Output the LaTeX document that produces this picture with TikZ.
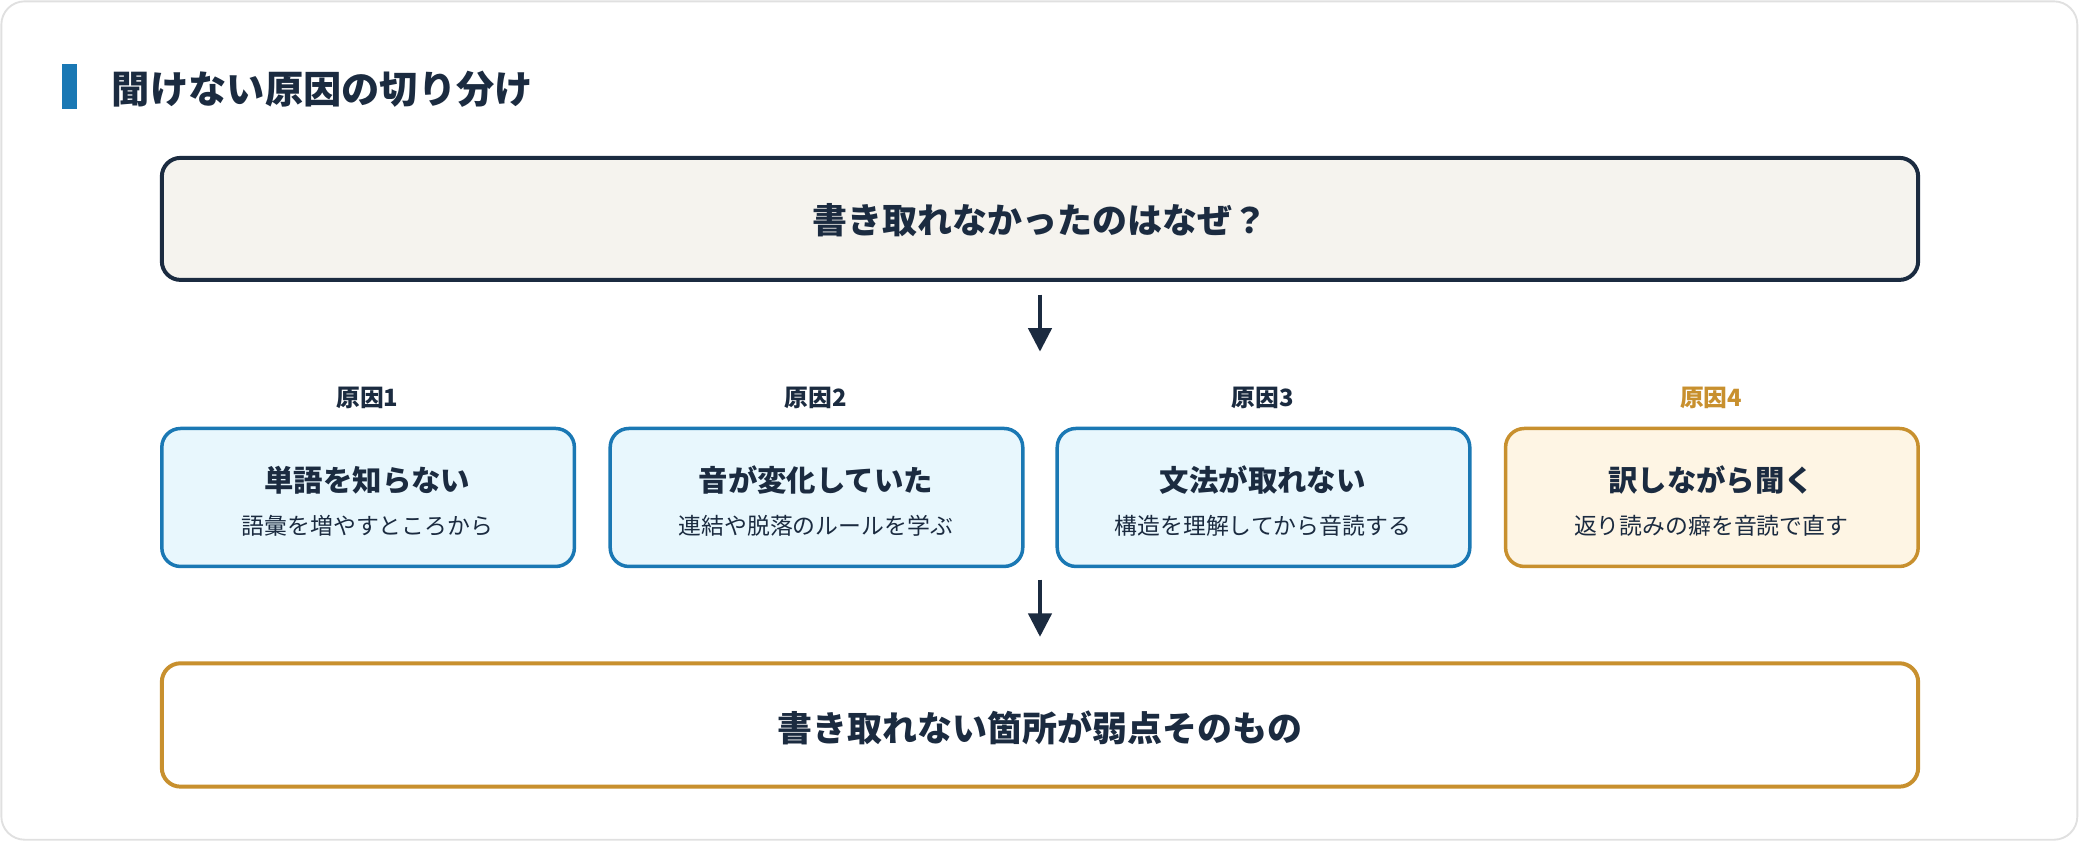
\documentclass[tikz,border=0pt]{standalone}
\usepackage{fontspec}
\setmainfont{Noto Sans CJK JP}
\usetikzlibrary{arrows.meta}
\definecolor{navy}{HTML}{1B2B40}
\definecolor{blueb}{HTML}{1A78B4}
\definecolor{bluef}{HTML}{E8F7FD}
\definecolor{gold}{HTML}{C8902E}
\definecolor{goldf}{HTML}{FEF5E4}
\definecolor{beige}{HTML}{F5F3EE}
\begin{document}
\begin{tikzpicture}[x=0.01cm,y=-0.01cm,
 box/.style={draw=blueb,fill=bluef,line width=0.75pt,rounded corners=4pt},
 big/.style={draw=navy,line width=0.85pt,rounded corners=4pt},
 arr/.style={draw=navy,line width=0.7pt,-{Triangle[length=5pt,width=5pt]}},
 ttl/.style={font=\fontsize{6.3}{7}\selectfont\bfseries,text=navy},
 sub/.style={font=\fontsize{4.9}{6}\selectfont,text=navy},
 lab/.style={font=\fontsize{5.1}{6}\selectfont\bfseries,text=navy},
 bigt/.style={font=\fontsize{7.5}{9}\selectfont\bfseries,text=navy}]
\useasboundingbox (0,0) rectangle (1568,635);
\draw[draw=black!12,fill=white,line width=0.4pt,rounded corners=5pt] (1,1) rectangle (1566,633);
\fill[blueb] (47,48) rectangle (58,82);
\node[anchor=west,font=\fontsize{8.2}{10}\selectfont\bfseries,text=navy] (title) at (72,67) {聞けない原因の切り分け};
\draw[big,fill=beige] (122,119) rectangle (1446,211);
\node[bigt] (q) at (784,166) {書き取れなかったのはなぜ？};
\coordinate (a1s) at (784,222); \coordinate (a1e) at (784,265);
\draw[arr] (a1s) -- (a1e);
\foreach \x/\n/\t/\s in {277/1/単語を知らない/語彙を増やすところから, 615/2/音が変化していた/連結や脱落のルールを学ぶ, 952/3/文法が取れない/構造を理解してから音読する}{
 \node[lab] (l\n) at (\x,300) {原因\n};
 \draw[box] (\x-155,323) rectangle (\x+156,427);
 \node[ttl] (t\n) at (\x,362) {\t};
 \node[sub] (s\n) at (\x,396) {\s};
}
\node[lab,text=gold] (l4) at (1290,300) {原因4};
\draw[box,draw=gold,fill=goldf] (1135,323) rectangle (1446,427);
\node[ttl] (t4) at (1290,362) {訳しながら聞く};
\node[sub] (s4) at (1290,396) {返り読みの癖を音読で直す};
\coordinate (a2s) at (784,437); \coordinate (a2e) at (784,480);
\draw[arr] (a2s) -- (a2e);
\draw[big,draw=gold,fill=white] (122,500) rectangle (1446,593);
\node[bigt] (r) at (784,549) {書き取れない箇所が弱点そのもの};
\end{tikzpicture}
\end{document}
